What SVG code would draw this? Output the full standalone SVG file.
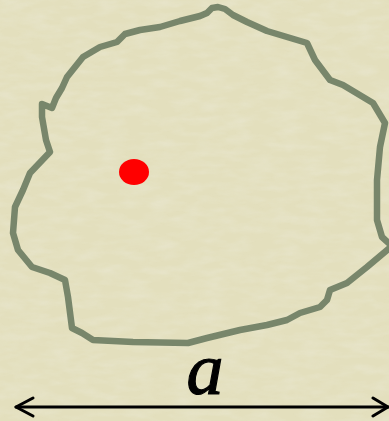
<svg xmlns="http://www.w3.org/2000/svg" width="389" height="421" viewBox="0 0 389 421">
  <defs>
    <style>
      .blob { fill: none; stroke: #78866b; stroke-width: 6.5; stroke-linejoin: round; stroke-linecap: round; }
      .dim { fill: none; stroke: #000; stroke-width: 3; stroke-linecap: round; stroke-linejoin: round; }
      .lbl { font-family: "Liberation Serif", "Times New Roman", serif; font-style: italic; font-size: 74px; fill: #000; stroke: #000; stroke-width: 1.2; }
    </style>
    <filter id="tex" x="0" y="0" width="100%" height="100%">
      <feTurbulence type="fractalNoise" baseFrequency="0.04 0.12" numOctaves="3" seed="4" result="n"/>
      <feColorMatrix in="n" type="matrix" values="0 0 0 0 0.85  0 0 0 0 0.84  0 0 0 0 0.72  0 0 0 -1.2 0.75" result="c"/>
      <feComposite in="c" in2="SourceGraphic" operator="in"/>
    </filter>
  </defs>
  <rect width="389" height="421" fill="#e3dfbd"/>
  <rect width="389" height="421" fill="#e3dfbd" filter="url(#tex)" opacity="0.6"/>
  <g id="region">
    <path class="blob" d="M46,140 L42,117 L42,104 L52,108 L56,98 L62,88 L67,77 L83,57 L100,47 L117,42 L125,34 L140,30 L160,27 L180,21 L200,16 L207,13 L212,8 L218,7 L225,9 L233,15 L247,22 L267,31 L287,37 L307,43 L315,60 L330,80 L343,85 L373,103 L385,123 L380,147 L377,180 L377,220 L382,237 L392,246 L367,267 L347,283 L330,290 L327,300 L320,307 L300,313 L287,320 L267,325 L240,330 L207,338 L188,343 L133,342 L93,340 L82,333 L72,328 L68,297 L65,280 L50,273 L32,267 L18,250 L13,233 L15,207 L23,190 L30,173 L50,152 Z"/>
  </g>
  <g id="point">
    <ellipse cx="134" cy="172" rx="15" ry="13" fill="#ff0000"/>
  </g>
  <g id="label">
    <text class="lbl" x="205" y="394" text-anchor="middle">a</text>
  </g>
  <g id="connectors">
    <path class="dim" d="M16,407 L388,407"/>
    <path class="dim" d="M33,398 L16,407 L33,416"/>
    <path class="dim" d="M373,398 L388,407 L373,416"/>
  </g>
</svg>
